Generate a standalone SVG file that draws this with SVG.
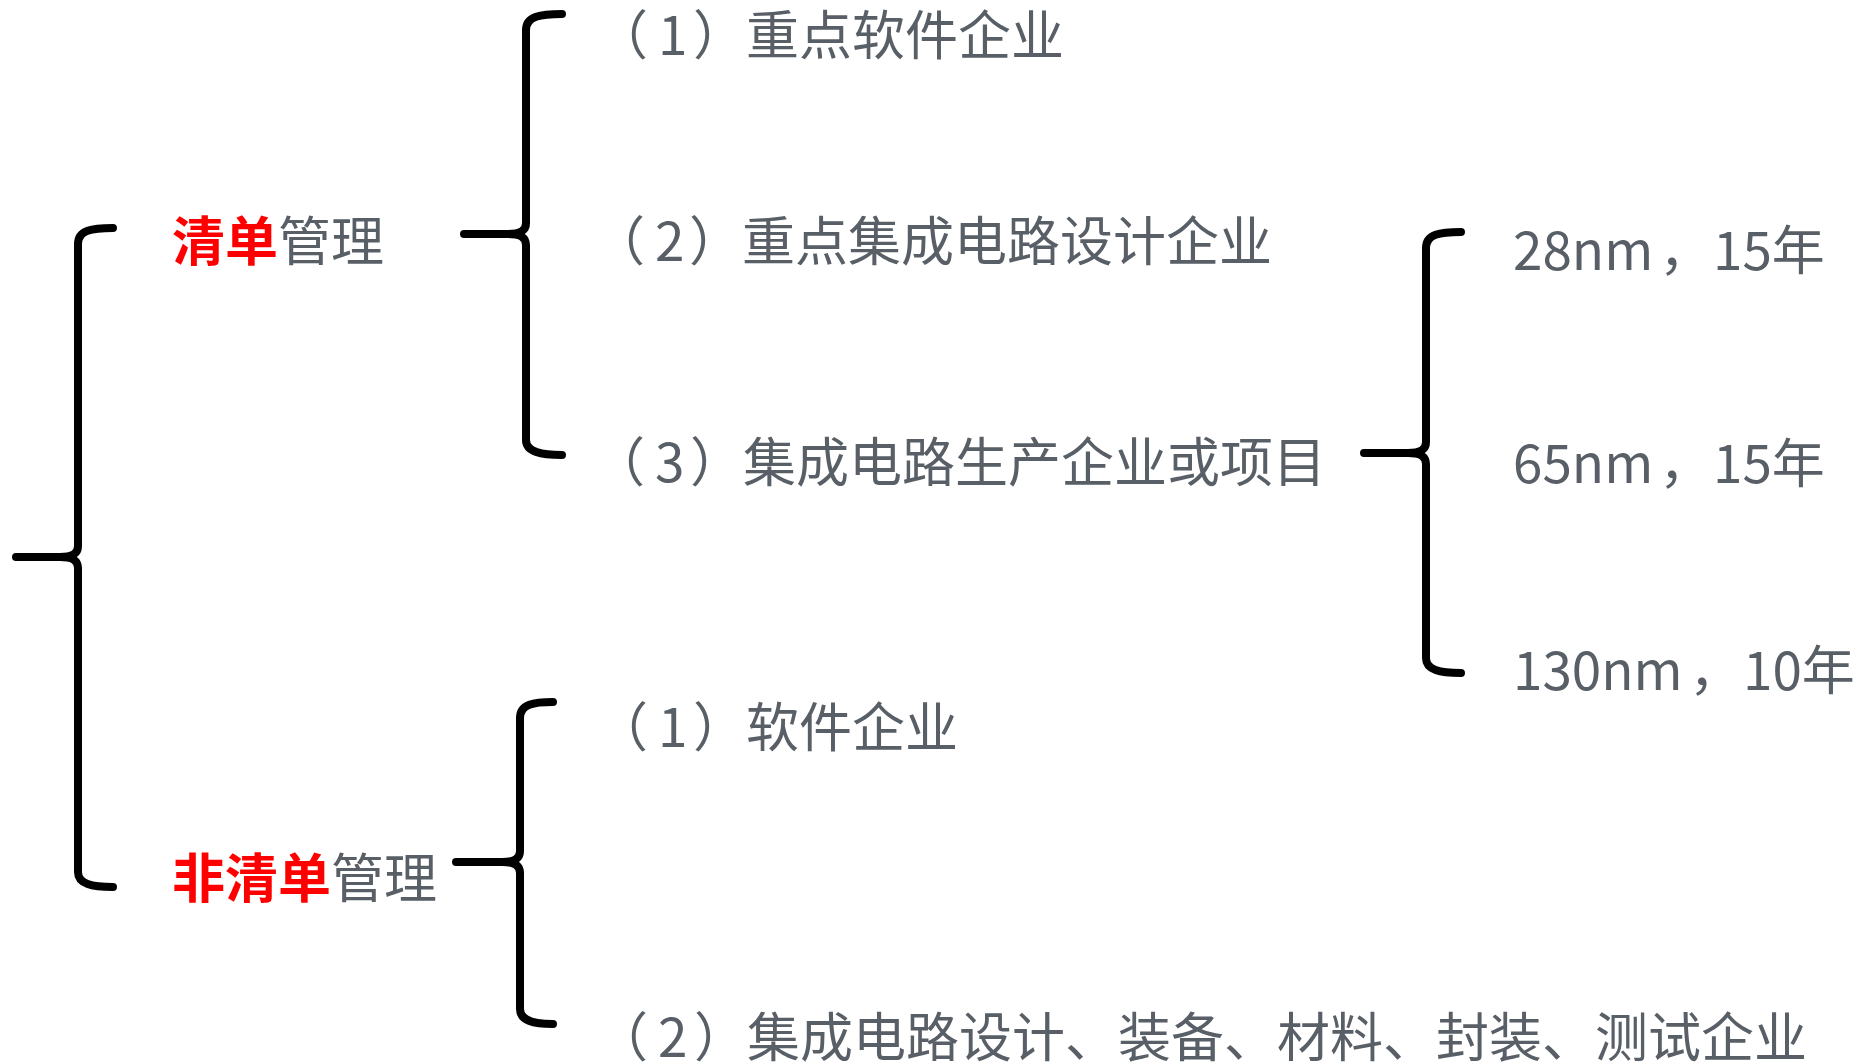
<svg xmlns="http://www.w3.org/2000/svg" width="1865" height="1064" viewBox="0 0 1865 1064">
<style>
.t{font-family:"Noto Sans CJK SC","Noto Sans",sans-serif;font-size:53px;fill:#595f66}
.r{fill:#ff0000;font-weight:700}
.b{fill:none;stroke:#000;stroke-width:8;stroke-linecap:round;stroke-linejoin:round}
</style>
<rect width="1865" height="1064" fill="#fff"/>
<g id="connectors">
<path class="b" d="M113 228 C92 228 78 230 78 244 L78 546 C78 554 72 557 60 557 L16 557 M60 557 C72 557 78 560 78 568 L78 872 C78 884 92 887 113 887"/>
<path class="b" d="M562 14 C541 14 526 16 526 30 L526 223 C526 231 520 234 508 234 L464 234 M508 234 C520 234 526 237 526 245 L526 440 C526 452 541 455 562 455"/>
<path class="b" d="M1461 232 C1440 232 1426 234 1426 248 L1426 442 C1426 450 1420 453 1408 453 L1364 453 M1408 453 C1420 453 1426 456 1426 464 L1426 658 C1426 670 1440 673 1461 673"/>
<path class="b" d="M553 702 C534 702 520 704 520 718 L520 851 C520 859 514 862 502 862 L456 862 M502 862 C514 862 520 865 520 873 L520 1009 C520 1021 534 1024 553 1024"/>
</g>
<g id="n-qingdan"><text class="t" x="172" y="261"><tspan class="r">清单</tspan>管理</text></g>
<g id="n-feiqingdan"><text class="t" x="172" y="898"><tspan class="r">非清单</tspan>管理</text></g>
<g id="n-a1"><text class="t" y="55"><tspan x="595">（</tspan><tspan x="658">1</tspan><tspan x="693">）</tspan><tspan x="746">重点软件企业</tspan></text></g>
<g id="n-a2"><text class="t" y="261"><tspan x="592">（</tspan><tspan x="655">2</tspan><tspan x="689">）</tspan><tspan x="742">重点集成电路设计企业</tspan></text></g>
<g id="n-a3"><text class="t" y="482"><tspan x="592">（</tspan><tspan x="655">3</tspan><tspan x="690">）</tspan><tspan x="743">集成电路生产企业或项目</tspan></text></g>
<g id="n-c1"><text class="t" y="270"><tspan x="1513">28nm</tspan><tspan x="1659">，</tspan><tspan x="1713">15年</tspan></text></g>
<g id="n-c2"><text class="t" y="483"><tspan x="1513">65nm</tspan><tspan x="1659">，</tspan><tspan x="1713">15年</tspan></text></g>
<g id="n-c3"><text class="t" y="690"><tspan x="1513">130nm</tspan><tspan x="1689">，</tspan><tspan x="1743">10年</tspan></text></g>
<g id="n-b1"><text class="t" y="747"><tspan x="595">（</tspan><tspan x="658">1</tspan><tspan x="693">）</tspan><tspan x="746">软件企业</tspan></text></g>
<g id="n-b2"><text class="t" y="1057"><tspan x="595">（</tspan><tspan x="658">2</tspan><tspan x="694">）</tspan><tspan x="747">集成电路设计、装备、材料、封装、测试企业</tspan></text></g>
</svg>
